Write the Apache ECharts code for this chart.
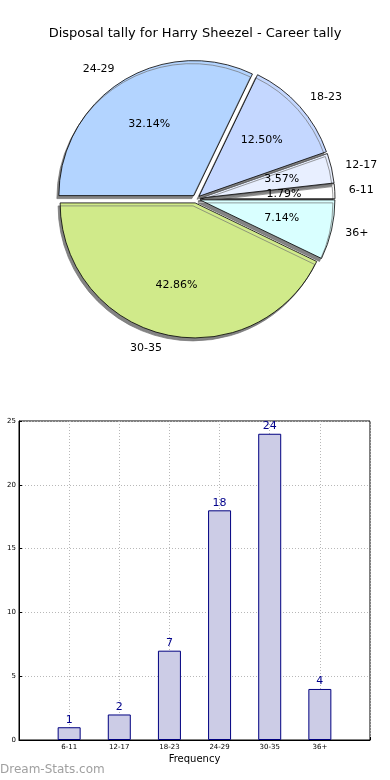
<!DOCTYPE html>
<html>
<head>
<meta charset="utf-8">
<script src="https://cdn.jsdelivr.net/npm/echarts@6/dist/echarts.min.js"></script>
<style>
html,body{margin:0;padding:0;background:#fff;}
#c{width:390px;height:780px;}
</style>
</head>
<body>
<div id="c"></div>
<script>
var titleText = 'Disposal tally for Harry Sheezel - Career tally';
var categories = ['6-11', '12-17', '18-23', '24-29', '30-35', '36+'];
var counts = [1, 2, 7, 18, 24, 4];
var sliceColors = ['#ffffff', '#e8efff', '#c4d7ff', '#b3d4ff', '#d0ea8a', '#d9ffff'];
var yTicks = [0, 5, 10, 15, 20, 25];
var xAxisTitle = 'Frequency';
var yAxisTitle = 'Number of Games';
var watermark = 'Dream-Stats.com';

var FONT = 'DejaVu Sans';
var total = counts.reduce(function (a, b) { return a + b; }, 0);
var R = 135;
var CX = 196, CY = 199;

var pieData = categories.map(function (c, i) {
  return { name: c, value: counts[i], selected: true, itemStyle: { color: sliceColors[i] } };
});
var pieData2 = categories.map(function (c, i) {
  return { name: c, value: counts[i], selected: true };
});
var barData = counts.map(function (v, i) { return [i + 1, v]; });

var chart = echarts.init(document.getElementById('c'), null, { renderer: 'canvas' });
chart.setOption({
  animation: false,
  backgroundColor: '#ffffff',
  title: {
    text: titleText, left: 'center', top: 22,
    textStyle: { fontFamily: FONT, fontSize: 13, fontWeight: 'normal', color: '#000' }
  },
  graphic: [{
    type: 'text', left: 0, top: 764,
    style: { text: watermark, fontFamily: FONT, fontSize: 12, fill: '#a0a0a0', fontWeight: 'normal' }
  }],
  grid: {
    left: 19, right: 20, top: 421, bottom: 40,
    outerBoundsMode: 'none', containLabel: false,
    show: true, borderColor: '#000', borderWidth: 1, backgroundColor: 'transparent'
  },
  xAxis: {
    type: 'value', min: 0, max: categories.length + 1, interval: 1,
    name: xAxisTitle, nameLocation: 'middle', nameGap: 14,
    nameTextStyle: { fontFamily: FONT, fontSize: 10, color: '#000' },
    axisLine: { show: true, lineStyle: { color: '#000' } },
    axisTick: { show: true, inside: true, length: 3, lineStyle: { color: '#000' } },
    axisLabel: {
      fontFamily: FONT, fontSize: 7, color: '#000', margin: 4,
      formatter: function (v) { return categories[v - 1] || ''; }
    },
    splitLine: { show: true, lineStyle: { color: '#b8b8b8', type: [1, 2], width: 1 } }
  },
  yAxis: {
    type: 'value', min: yTicks[0], max: yTicks[yTicks.length - 1], interval: 5,
    name: yAxisTitle, nameLocation: 'middle', nameGap: 21, nameRotate: 90, nameMoveOverlap: false,
    nameTextStyle: { fontFamily: FONT, fontSize: 10, color: '#000' },
    axisLine: { show: true, lineStyle: { color: '#000' } },
    axisTick: { show: true, inside: true, length: 3, lineStyle: { color: '#000' } },
    axisLabel: { fontFamily: FONT, fontSize: 7, color: '#000', margin: 3 },
    splitLine: { show: true, lineStyle: { color: '#b8b8b8', type: [1, 2], width: 1 } }
  },
  series: [
    {
      type: 'bar', data: barData, barWidth: 23,
      itemStyle: { color: '#ccccE6', borderColor: '#000080', borderWidth: 1 },
      label: {
        show: true, position: 'top', distance: 2,
        fontFamily: FONT, fontSize: 11, color: '#00008b',
        formatter: function (p) { return p.value[1]; }
      },
      z: 3
    },
    {
      type: 'pie', center: [CX, CY], radius: [0, R],
      startAngle: 0, clockwise: false, avoidLabelOverlap: false,
      selectedMode: 'multiple', selectedOffset: 4,
      data: pieData,
      itemStyle: {
        borderColor: '#000', borderWidth: 0.8,
        shadowColor: 'rgba(110,110,110,0.85)', shadowBlur: 0, shadowOffsetX: -2, shadowOffsetY: 3
      },
      label: {
        show: true, position: 'outside', fontFamily: FONT, fontSize: 11, color: '#000',
        distanceToLabelLine: 0, formatter: '{b}'
      },
      labelLine: { show: false, length: 14, length2: 0 },
      emphasis: { disabled: true }
    },
    {
      type: 'pie', center: [CX, CY], radius: [0, R * 1.2],
      startAngle: 0, clockwise: false, avoidLabelOverlap: false,
      selectedMode: 'multiple', selectedOffset: 4, silent: true,
      data: pieData2,
      itemStyle: { color: 'rgba(0,0,0,0)', borderWidth: 0 },
      label: {
        show: true, position: 'inside', fontFamily: FONT, fontSize: 11, color: '#000',
        formatter: function (p) { return (p.value / total * 100).toFixed(2) + '%'; }
      },
      labelLine: { show: false },
      emphasis: { disabled: true },
      z: 3
    }
  ]
});
</script>
</body>
</html>
